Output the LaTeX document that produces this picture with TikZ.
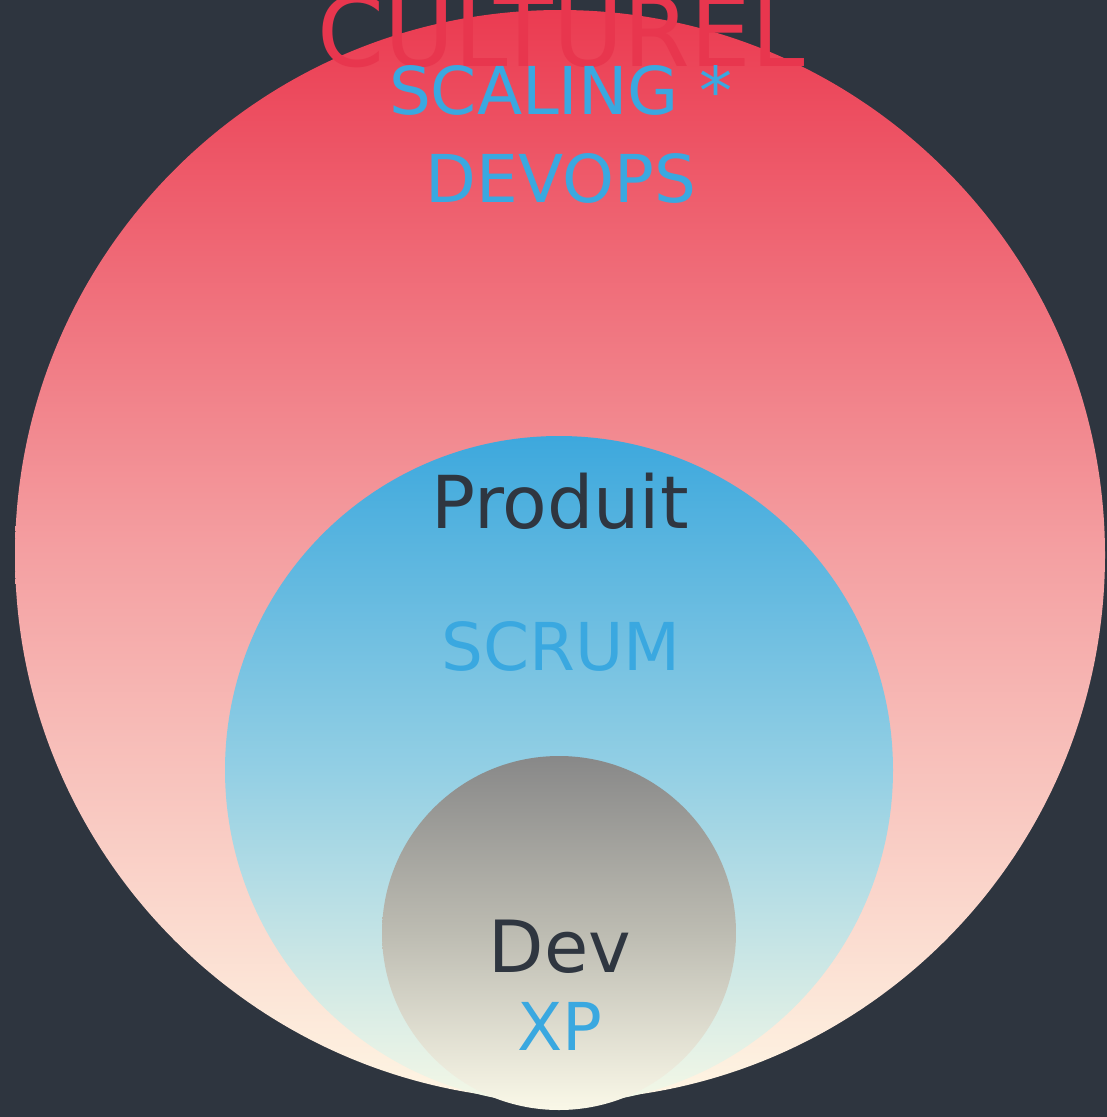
\documentclass[tikz,border=0pt]{standalone}
\usepackage{fontspec}
\setmainfont{DejaVu Sans}
\definecolor{bg}{HTML}{2E353F}
\definecolor{redtop}{HTML}{EB3B51}
\definecolor{redmid}{HTML}{F4A0A2}
\definecolor{cream}{HTML}{FEF6E4}
\definecolor{bluetop}{HTML}{3DA8DD}
\definecolor{bluemid}{HTML}{93CFE4}
\definecolor{bluebot}{HTML}{F5F8E6}
\definecolor{graytop}{HTML}{888888}
\definecolor{graymid}{HTML}{BDBCB2}
\definecolor{graybot}{HTML}{FAF8E8}
\definecolor{txtblue}{HTML}{3AA8E0}
\definecolor{txtred}{HTML}{E8364E}
\definecolor{txtdark}{HTML}{2F3640}
\tikzset{
  blob/.style={circle, inner sep=0pt, minimum size=#1},
  lbl/.style={anchor=base, inner sep=0pt},
}
\begin{document}
\begin{tikzpicture}[x=1pt,y=-1pt]
\fill[bg] (0,0) rectangle (1107,1117);
\useasboundingbox (0,0) rectangle (1107,1117);
\node[blob=1090pt, top color=redtop, bottom color=cream, middle color=redmid] (outer) at (560,555) {};
\node[blob=668pt, top color=bluetop, bottom color=bluebot, middle color=bluemid] (mid) at (559,770) {};
\node[blob=354pt, top color=graytop, bottom color=graybot, middle color=graymid] (inner) at (559,933) {};
\node[lbl, text=txtred, font=\fontsize{96}{100}\selectfont] (cult) at (561,66) {CULTUREL};
\node[lbl, text=txtblue, font=\fontsize{66}{70}\selectfont] (scal) at (561,114) {SCALING *};
\node[lbl, text=txtblue, font=\fontsize{66}{70}\selectfont] (devops) at (561,202) {DEVOPS};
\node[lbl, text=txtdark, font=\fontsize{73}{76}\selectfont] (prod) at (560,528) {Produit};
\node[lbl, text=txtblue, font=\fontsize{66}{70}\selectfont] (scrum) at (561,670) {SCRUM};
\node[lbl, text=txtdark, font=\fontsize{72}{76}\selectfont] (dev) at (560,972) {Dev};
\node[lbl, text=txtblue, font=\fontsize{66}{70}\selectfont] (xp) at (560,1050) {XP};
\end{tikzpicture}
\end{document}
